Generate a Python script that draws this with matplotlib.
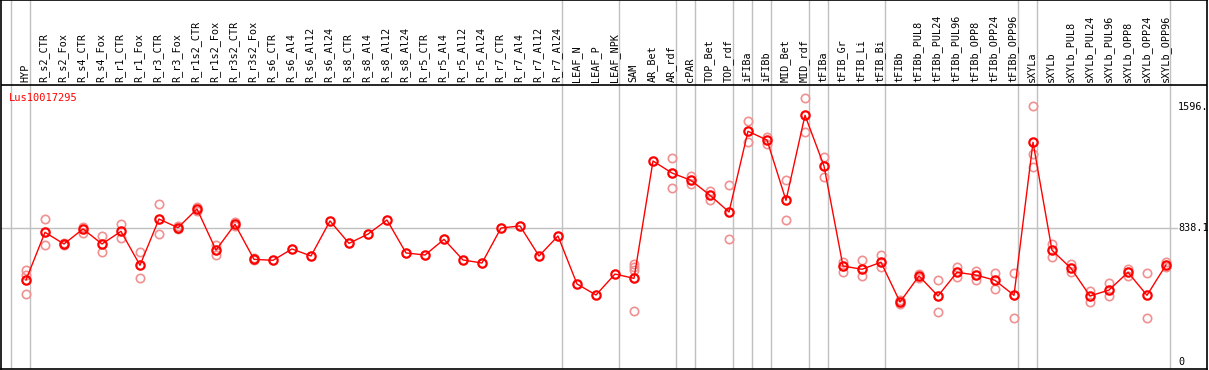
import matplotlib.pyplot as plt
import numpy as np

samples = ['HYP', 'R_s2_CTR', 'R_s2_Fox', 'R_s4_CTR', 'R_s4_Fox', 'R_r1_CTR', 'R_r1_Fox',
           'R_r3_CTR', 'R_r3_Fox', 'R_r1s2_CTR', 'R_r1s2_Fox', 'R_r3s2_CTR', 'R_r3s2_Fox',
           'R_s6_CTR', 'R_s6_Al4', 'R_s6_Al12', 'R_s6_Al24', 'R_s8_CTR', 'R_s8_Al4',
           'R_s8_Al12', 'R_s8_Al24', 'R_r5_CTR', 'R_r5_Al4', 'R_r5_Al12', 'R_r5_Al24',
           'R_r7_CTR', 'R_r7_Al4', 'R_r7_Al12', 'R_r7_Al24', 'LEAF_N', 'LEAF_P', 'LEAF_NPK',
           'SAM', 'AR_Bet', 'AR_rdf', 'cPAR', 'TOP_Bet', 'TOP_rdf', 'iFIBa', 'iFIBb',
           'MID_Bet', 'MID_rdf', 'tFIBa', 'tFIB_Gr', 'tFIB_Li', 'tFIB_Bi', 'tFIBb',
           'tFIBb_PUL8', 'tFIBb_PUL24', 'tFIBb_PUL96', 'tFIBb_OPP8', 'tFIBb_OPP24',
           'tFIBb_OPP96', 'sXYLa', 'sXYLb', 'sXYLb_PUL8', 'sXYLb_PUL24', 'sXYLb_PUL96',
           'sXYLb_OPP8', 'sXYLb_OPP24', 'sXYLb_OPP96']

means = [513, 811, 738, 832, 738, 817, 605, 894, 840, 957, 700, 861, 642, 636, 707,
         663, 882, 742, 800, 888, 682, 669, 767, 638, 619, 838, 851, 663, 788, 488,
         419, 550, 523, 1257, 1182, 1136, 1043, 938, 1443, 1388, 1011, 1543, 1226,
         600, 580, 624, 375, 538, 413, 561, 544, 511, 417, 1374, 699, 586, 413, 450,
         561, 417, 607]

# replicate values: sample index -> values
reps = {
    0: [575, 544, 425], 1: [894, 730], 2: [744, 732], 3: [846, 805], 4: [788, 686],
    5: [861, 774], 6: [686, 523], 7: [986, 799], 8: [851, 829], 9: [969, 944],
    10: [732, 669], 11: [876, 851], 12: [650, 638],
    32: [613, 596, 575, 319], 34: [1274, 1086], 35: [1163, 1111], 36: [1071, 1013],
    37: [1105, 769], 38: [1505, 1374], 39: [1409, 1361], 40: [1138, 886],
    41: [1649, 1437], 42: [1282, 1155], 43: [627, 561], 44: [636, 540],
    45: [669, 596], 46: [388, 363], 47: [550, 525], 48: [511, 313], 49: [596, 533],
    50: [571, 513], 51: [557, 458], 52: [557, 277], 53: [1601, 1299, 1218],
    54: [738, 659], 55: [613, 561], 56: [446, 373], 57: [494, 411], 58: [584, 540],
    59: [557, 277], 60: [624, 592],
}

group_breaks = [-1, 0, 28, 31, 34, 35, 37, 38, 39, 41, 42, 45, 52, 53, 60]
ref_ticks = [1596, 838.1, 0]
ref_labels = ['1596.', '838.1', '0']
title = 'Lus10017295'

W, H = 1209, 370
x0, dx = 26, 19           # pixel of first sample, pixel step
y0, sc = 362, 0.1599      # pixel of zero, pixels per unit

def px_x(p):
    return (p - x0) / dx

def px_y(p):
    return (y0 - p) / sc

fig = plt.figure(figsize=(W / 100, H / 100), dpi=100)
ax = fig.add_axes([1 / W, 1 / H, 1206 / W, 369 / H])
ax.set_xlim(px_x(1), px_x(1207))
ax.set_ylim(px_y(369), px_y(0))
ax.set_xticks([])
ax.set_yticks([])
for s in ax.spines.values():
    s.set_color('black')
    s.set_linewidth(1.2)

mono = 'DejaVu Sans Mono'
xs = np.arange(len(samples))

for g in group_breaks:
    ax.axvline(g + 0.22, color='#c0c0c0', lw=1, zorder=1)
ax.axhline(px_y(85), color='black', lw=1.2, zorder=2)
ax.plot([px_x(1), px_x(1177)], [838.1, 838.1], color='#c0c0c0', lw=1, zorder=1)

for i, name in enumerate(samples):
    ax.text(i - 0.05, px_y(82), name, rotation=90, ha='center', va='bottom',
            fontsize=7.3, family=mono, color='black')

for i, vals in reps.items():
    ax.plot([i] * len(vals), vals, 'o', ms=6, mfc='none', mec='#f09090', mew=1.2, zorder=3)

ax.plot(xs, means, '-', color='red', lw=1, zorder=4)
ax.plot(xs, means, 'o', ms=6, mfc='none', mec='red', mew=1.6, zorder=5)

for v, lab in zip(ref_ticks, ref_labels):
    ax.text(px_x(1178), v, lab, ha='left', va='center', fontsize=7.3, family=mono)

ax.text(px_x(9), px_y(98), title, ha='left', va='center', fontsize=7.5,
        family=mono, color='red')

fig.savefig('out.png', dpi=100)
